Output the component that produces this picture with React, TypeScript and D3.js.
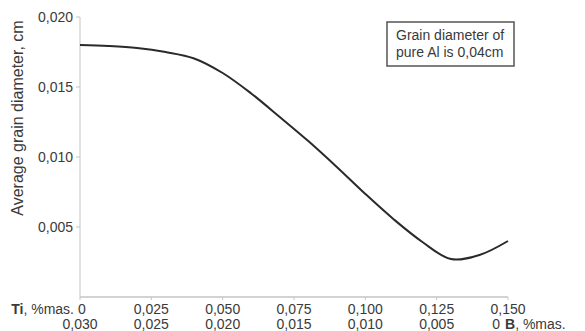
import { useEffect, useRef } from 'react';
import * as d3 from 'd3';

// Ti content, %mas. (primary x) and average grain diameter, cm
const tiValues = [0, 0.01, 0.02, 0.03, 0.04, 0.05, 0.06, 0.07, 0.08, 0.09, 0.1, 0.11, 0.12, 0.13, 0.14, 0.15];
const grainDiameter = [0.018, 0.01793, 0.01779, 0.0175, 0.01704, 0.016, 0.01454, 0.01286, 0.01114, 0.00929, 0.00736, 0.00554, 0.00393, 0.00271, 0.003, 0.004];

const tiTicks = [0, 0.025, 0.05, 0.075, 0.1, 0.125, 0.15];
const bTicks = [0.03, 0.025, 0.02, 0.015, 0.01, 0.005, 0];
const yTicks = [0.005, 0.01, 0.015, 0.02];

const noteLines = ['Grain diameter of', 'pure Al is 0,04cm'];

const width = 585;
const height = 331;
const font = 'Arial, "Liberation Sans", sans-serif';
const textColor = '#3a3a3a';
const axisColor = '#c4c4c4';

const fmt = (v: number) => (v === 0 ? '0' : d3.format('.3f')(v).replace('.', ','));

export default function App() {
  const svgRef = useRef<SVGSVGElement>(null);

  useEffect(() => {
    const svg = d3.select(svgRef.current);
    svg.selectAll('*').remove();

    const x = d3.scaleLinear().domain([0, 0.15]).range([80, 508]);
    const xB = d3.scaleLinear().domain([0.03, 0]).range([80, 508]);
    const y = d3.scaleLinear().domain([0, 0.02]).range([297, 17]);

    svg.append('rect').attr('width', width).attr('height', height).attr('fill', '#fff');

    // axes
    svg.append('line')
      .attr('x1', x(0)).attr('x2', x(0))
      .attr('y1', y(0.02)).attr('y2', y(0))
      .attr('stroke', axisColor).attr('stroke-width', 1);
    svg.append('line')
      .attr('x1', x(0)).attr('x2', x(0.15))
      .attr('y1', y(0)).attr('y2', y(0))
      .attr('stroke', axisColor).attr('stroke-width', 1.5);

    yTicks.forEach(t => {
      svg.append('line')
        .attr('x1', x(0) - 4).attr('x2', x(0))
        .attr('y1', y(t)).attr('y2', y(t))
        .attr('stroke', axisColor);
      svg.append('text')
        .attr('x', 73).attr('y', y(t))
        .attr('dy', '0.35em')
        .attr('text-anchor', 'end')
        .attr('fill', textColor)
        .style('font-family', font)
        .style('font-size', '14px')
        .text(fmt(t));
    });

    tiTicks.forEach(t => {
      svg.append('line')
        .attr('x1', x(t)).attr('x2', x(t))
        .attr('y1', y(0)).attr('y2', y(0) + 3)
        .attr('stroke', axisColor);
      svg.append('text')
        .attr('x', t === 0 ? x(t) - 2 : x(t))
        .attr('y', 314)
        .attr('text-anchor', t === 0 ? 'start' : 'middle')
        .attr('fill', textColor)
        .style('font-family', font)
        .style('font-size', '14px')
        .text(fmt(t));
    });

    bTicks.forEach(t => {
      svg.append('text')
        .attr('x', t === 0 ? xB(t) - 8 : xB(t))
        .attr('y', 329)
        .attr('text-anchor', t === 0 ? 'end' : 'middle')
        .attr('fill', textColor)
        .style('font-family', font)
        .style('font-size', '14px')
        .text(fmt(t));
    });

    const tiLabel = svg.append('text')
      .attr('x', 74).attr('y', 314)
      .attr('text-anchor', 'end')
      .attr('fill', textColor)
      .style('font-family', font)
      .style('font-size', '14px');
    tiLabel.append('tspan').style('font-weight', 'bold').text('Ti');
    tiLabel.append('tspan').text(', %mas.');

    const bLabel = svg.append('text')
      .attr('x', 505).attr('y', 329)
      .attr('fill', textColor)
      .style('font-family', font)
      .style('font-size', '14px');
    bLabel.append('tspan').style('font-weight', 'bold').text('B');
    bLabel.append('tspan').text(', %mas.');

    svg.append('text')
      .attr('transform', `translate(23,${118}) rotate(-90)`)
      .attr('text-anchor', 'middle')
      .attr('fill', textColor)
      .style('font-family', font)
      .style('font-size', '16px')
      .text('Average grain diameter, cm');

    // curve
    const line = d3.line<number>()
      .x((d, i) => x(tiValues[i]))
      .y(d => y(d))
      .curve(d3.curveCatmullRom.alpha(0.5));

    svg.append('path')
      .datum(grainDiameter)
      .attr('d', line)
      .attr('fill', 'none')
      .attr('stroke', '#2a2a2a')
      .attr('stroke-width', 2);

    // note box
    svg.append('rect')
      .attr('x', 387).attr('y', 22)
      .attr('width', 127).attr('height', 44)
      .attr('fill', '#fff')
      .attr('stroke', '#555')
      .attr('stroke-width', 1.5);

    noteLines.forEach((l, i) => {
      svg.append('text')
        .attr('x', 396).attr('y', 40 + i * 17)
        .attr('fill', textColor)
        .style('font-family', font)
        .style('font-size', '14px')
        .text(l);
    });
  }, []);

  return (
    <svg
      ref={svgRef}
      width={width}
      height={height}
      style={{ position: 'absolute', left: 0, top: 0, display: 'block' }}
    />
  );
}
